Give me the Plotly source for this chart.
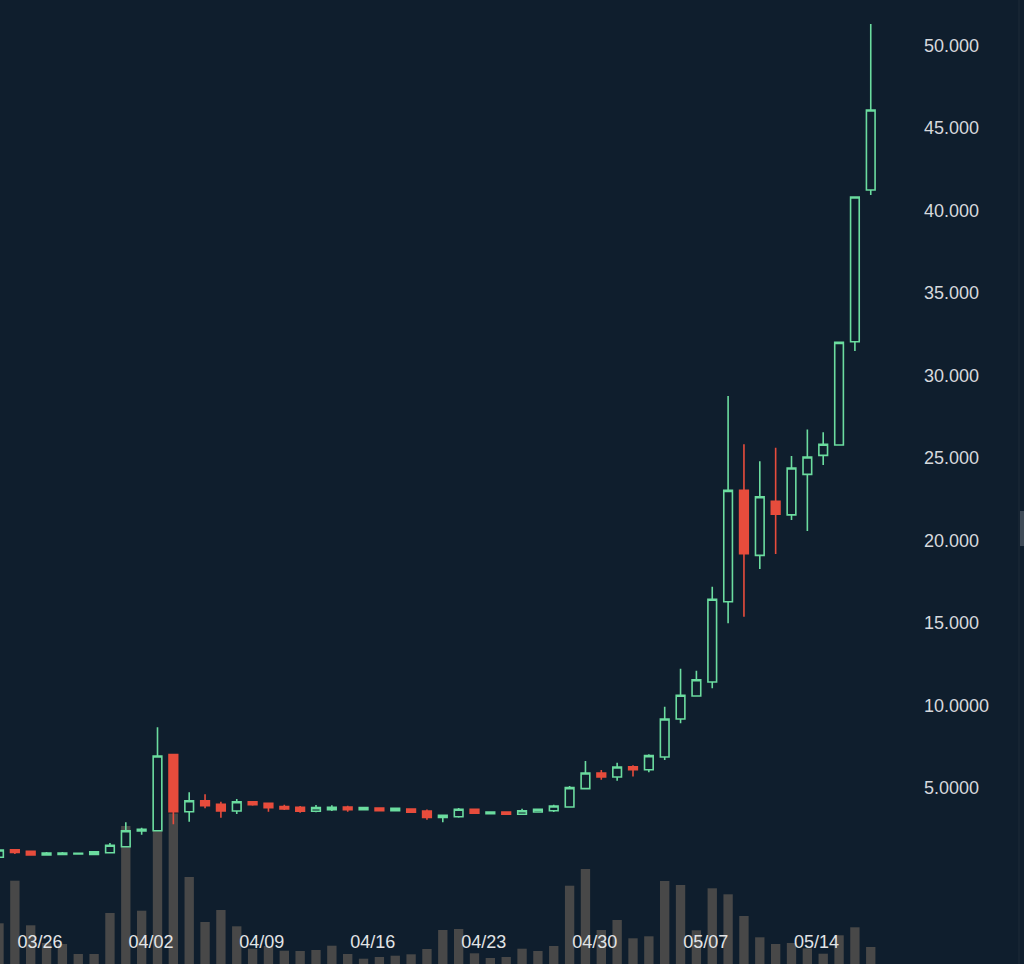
import pandas as pd
import plotly.graph_objects as go

# ---- data -------------------------------------------------------------
start_date = "2024-03-24"
n_days = 56
dates = pd.date_range(start_date, periods=n_days, freq="D")

opens = [0.80, 1.26, 1.16, 0.94, 0.98, 1.00, 0.98, 1.08, 1.44, 2.39,
         2.41, 7.02, 3.56, 4.23, 4.01, 3.61, 4.17, 4.07, 3.87, 3.83,
         3.59, 3.69, 3.85, 3.69, 3.79, 3.62, 3.73, 3.61, 3.22, 3.26,
         3.71, 3.44, 3.55, 3.41, 3.55, 3.62, 3.85, 4.96, 5.91, 5.67,
         6.29, 6.11, 6.88, 9.18, 10.58, 11.42, 16.29, 23.04, 19.10, 22.38,
         21.55, 24.01, 25.16, 25.79, 32.05, 41.24]
highs = [1.24, 1.26, 1.16, 1.12, 1.12, 1.06, 1.16, 1.67, 2.92, 2.59,
         8.68, 7.02, 4.74, 4.62, 4.17, 4.33, 4.17, 4.07, 3.99, 3.91,
         3.97, 3.95, 3.93, 3.85, 3.80, 3.80, 3.75, 3.69, 3.36, 3.79,
         3.71, 3.59, 3.55, 3.75, 3.75, 3.99, 5.12, 6.64, 6.09, 6.53,
         6.38, 7.04, 9.93, 12.23, 12.11, 17.20, 28.76, 25.83, 24.80, 25.62,
         25.12, 26.72, 26.56, 32.01, 40.82, 51.30]
lows = [0.80, 1.00, 0.90, 0.90, 0.94, 0.99, 0.97, 1.08, 1.44, 2.17,
        2.41, 2.80, 2.96, 3.77, 3.20, 3.42, 3.93, 3.56, 3.67, 3.50,
        3.53, 3.61, 3.56, 3.67, 3.60, 3.60, 3.50, 3.08, 2.92, 3.20,
        3.42, 3.40, 3.38, 3.38, 3.55, 3.55, 3.85, 4.96, 5.50, 5.44,
        5.69, 5.95, 6.70, 8.92, 10.58, 11.04, 14.98, 15.38, 18.27, 19.18,
        21.24, 20.58, 24.58, 25.79, 31.48, 40.94]
closes = [1.24, 1.10, 0.94, 1.06, 1.06, 1.05, 1.14, 1.53, 2.41, 2.50,
          6.94, 3.56, 4.23, 3.93, 3.61, 4.17, 3.99, 3.81, 3.73, 3.59,
          3.81, 3.83, 3.69, 3.81, 3.62, 3.77, 3.53, 3.22, 3.34, 3.71,
          3.47, 3.55, 3.41, 3.62, 3.71, 3.91, 5.02, 5.91, 5.67, 6.27,
          6.11, 6.96, 9.18, 10.62, 11.56, 16.44, 23.04, 19.20, 22.65, 21.60,
          24.39, 25.06, 25.83, 32.01, 40.82, 46.09]
volumes = [40.7, 83.3, 38.7, 21.0, 20.0, 10.0, 10.0, 51.0, 138.0, 53.3,
           170.0, 150.5, 87.0, 42.0, 54.0, 37.7, 15.3, 18.0, 13.3, 13.0,
           14.0, 18.3, 10.0, 5.3, 7.0, 8.3, 9.7, 15.0, 34.0, 35.0,
           10.7, 6.0, 7.0, 15.3, 13.0, 18.0, 78.3, 95.0, 34.0, 44.0,
           25.7, 27.7, 83.0, 79.0, 33.7, 75.7, 69.7, 48.0, 26.7, 20.0,
           21.0, 15.7, 10.3, 28.7, 36.7, 17.0]

tick_dates = ["2024-03-26", "2024-04-02", "2024-04-09", "2024-04-16",
              "2024-04-23", "2024-04-30", "2024-05-07", "2024-05-14"]
tick_labels = ["03/26", "04/02", "04/09", "04/16", "04/23", "04/30", "05/07", "05/14"]

price_ticks = [5, 10, 15, 20, 25, 30, 35, 40, 45, 50]
price_labels = ["5.0000", "10.0000", "15.000", "20.000", "25.000",
                "30.000", "35.000", "40.000", "45.000", "50.000"]

# ---- style ------------------------------------------------------------
BG = "#0f1e2d"
UP = "#6bdc9f"
DOWN = "#e74c3c"
VOL = "#484848"
TXT = "#e2e4e6"
FONT = "Liberation Sans, Arial, sans-serif"

W, H = 1024, 964
plot_right = 905
px_per_day = 15.85
first_px = -1.0
zero_px = 870.5
px_per_unit = 16.5

day = pd.Timedelta(days=1)
x0 = dates[0] + day * ((0 - first_px) / px_per_day)
x1 = dates[0] + day * ((plot_right - first_px) / px_per_day)
tick_pos = [pd.Timestamp(d) + pd.Timedelta(hours=14) for d in tick_dates]

fig = go.Figure()
fig.add_trace(go.Bar(
    x=dates, y=volumes, marker=dict(color=VOL, line=dict(width=0)),
    width=0.59 * 86400000, yaxis="y", hoverinfo="skip", showlegend=False,
))
fig.add_trace(go.Candlestick(
    x=dates, open=opens, high=highs, low=lows, close=closes,
    yaxis="y2", showlegend=False,
    increasing=dict(line=dict(color=UP, width=1.6), fillcolor=BG),
    decreasing=dict(line=dict(color=DOWN, width=1.6), fillcolor=DOWN),
    whiskerwidth=0,
))

fig.update_layout(
    width=W, height=H,
    margin=dict(l=0, r=W - plot_right, t=0, b=0, pad=0),
    paper_bgcolor=BG, plot_bgcolor=BG,
    font=dict(family=FONT, size=18, color=TXT),
    boxgap=0.22,
    showlegend=False,
    hovermode=False,
    xaxis=dict(
        type="date", range=[x0, x1],
        tickmode="array", tickvals=tick_pos, ticktext=tick_labels,
        ticklabelposition="inside", ticks="", ticklabelstandoff=9,
        showgrid=False, zeroline=False, showline=False,
        rangeslider=dict(visible=False),
        tickfont=dict(size=18, color=TXT, family=FONT),
    ),
    yaxis=dict(
        range=[0, H], visible=False, showgrid=False, zeroline=False,
    ),
    yaxis2=dict(
        overlaying="y", side="right",
        range=[(zero_px - H) / px_per_unit, zero_px / px_per_unit],
        tickmode="array", tickvals=price_ticks, ticktext=price_labels,
        showgrid=False, zeroline=False, showline=False, ticks="",
        ticklabelstandoff=18,
        tickfont=dict(size=18, color="#d6d9dd", family=FONT),
    ),
    shapes=[
        dict(type="line", xref="paper", yref="paper",
             x0=1019 / plot_right, x1=1019 / plot_right, y0=0, y1=1,
             line=dict(color="#1e2b38", width=1)),
        dict(type="rect", xref="paper", yref="paper",
             x0=1020 / plot_right, x1=1024 / plot_right,
             y0=1 - 546 / H, y1=1 - 511 / H,
             line=dict(width=0), fillcolor="#3e4a57"),
    ],
)

fig.write_html(
    "out.html",
    config={"displayModeBar": False, "staticPlot": True},
    post_script="document.body.style.margin='0';document.body.style.overflow='hidden';",
)
